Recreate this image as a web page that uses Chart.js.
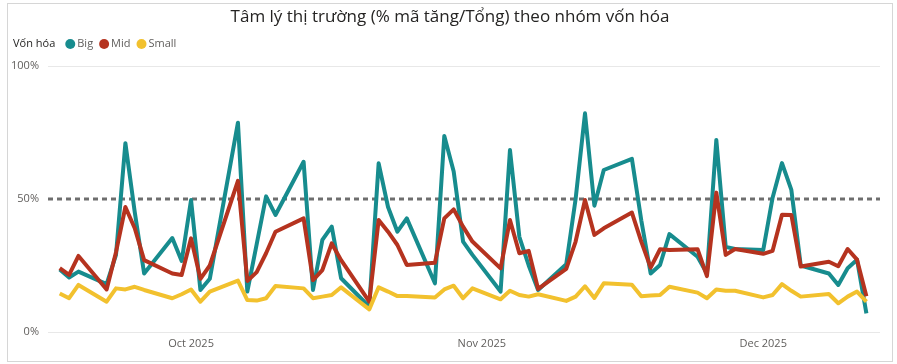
<!DOCTYPE html>
<html>
<head>
<meta charset="utf-8">
<script src="https://cdn.jsdelivr.net/npm/chart.js@4.4.1/dist/chart.umd.min.js"></script>
<style>
  html, body { margin: 0; padding: 0; background: #fff; }
  #khung { position: absolute; left: 7px; top: 3px; width: 884px; height: 357px; border: 1px solid #d6d6d6; }
  #bieudo { position: absolute; left: 0; top: 0; }
</style>
</head>
<body>
<div id="khung"></div>
<canvas id="bieudo" width="897" height="364"></canvas>
<script>
// Ngày giao dịch
const ngay = [
  '2025-09-17','2025-09-18','2025-09-19',
  '2025-09-22','2025-09-23','2025-09-24','2025-09-25','2025-09-26',
  '2025-09-29','2025-09-30','2025-10-01','2025-10-02','2025-10-03',
  '2025-10-06','2025-10-07','2025-10-08','2025-10-09','2025-10-10',
  '2025-10-13','2025-10-14','2025-10-15','2025-10-16','2025-10-17',
  '2025-10-20','2025-10-21','2025-10-22','2025-10-23','2025-10-24',
  '2025-10-27','2025-10-28','2025-10-29','2025-10-30','2025-10-31',
  '2025-11-03','2025-11-04','2025-11-05','2025-11-06','2025-11-07',
  '2025-11-10','2025-11-11','2025-11-12','2025-11-13','2025-11-14',
  '2025-11-17','2025-11-18','2025-11-19','2025-11-20','2025-11-21',
  '2025-11-24','2025-11-25','2025-11-26','2025-11-27','2025-11-28',
  '2025-12-01','2025-12-02','2025-12-03','2025-12-04','2025-12-05',
  '2025-12-08','2025-12-09','2025-12-10','2025-12-11','2025-12-12'
];

// % mã tăng / tổng theo nhóm vốn hóa
const big = [
  23.5, 20.5, 22.7,
  18, 29, 71, 45, 22,
  35.3, 26.7, 49.6, 15.8, 20,
  78.7, 15.2, 33, 51, 44,
  64, 15.8, 34.6, 39.6, 20.2,
  9.5, 63.4, 47, 37.7, 42.7,
  18.3, 73.7, 60.3, 34, 29,
  15.2, 68.4, 35.8, 25, 15.8,
  25.5, 50, 82.2, 47.5, 60.9,
  65.1, 42, 22, 25.2, 36.8,
  28.3, 22, 72.2, 32, 31.2,
  30.8, 50.5, 63.5, 53.4, 25,
  22, 17.7, 24, 27.2, 7
];
const mid = [
  24, 21.5, 28.6,
  16, 30, 47, 39, 27,
  22, 21.4, 35.2, 20, 25,
  56.8, 19.2, 22.5, 29.6, 37.7,
  42.7, 19.5, 23.3, 33.3, 27,
  11.4, 42.1, 37.7, 32.7, 25.2,
  26, 42.7, 46.1, 39.6, 34,
  23.9, 42.1, 29.6, 30.5, 16.2,
  23.7, 34, 49.6, 36.5, 39,
  44.9, 34, 24.2, 31.1, 30.8,
  31.1, 21, 52.4, 29, 31.2,
  29.4, 30.5, 44.1, 44, 24.6,
  26.4, 24.7, 31.2, 27.2, 13.4
];
const small = [
  14.5, 12.7, 17.7,
  11.4, 16.4, 16, 17, 15.8,
  12.7, 14.2, 16, 11.4, 15.2,
  19.3, 12, 11.8, 12.7, 17.3,
  16.4, 12.7, 13.3, 13.9, 16.8,
  8.5, 16.8, 15.2, 13.5, 13.5,
  13, 16, 17.4, 12.7, 16.4,
  12.3, 15.5, 13.9, 13.3, 14.2,
  11.7, 13.3, 17.2, 12.8, 18.3,
  17.8, 13.4, 13.7, 13.9, 17,
  14.8, 12.7, 16, 15.5, 15.5,
  13, 13.9, 18, 15.5, 13.3,
  14.3, 10.8, 13.3, 15.2, 11.4
];

const tenNhom = ['Big', 'Mid', 'Small'];
const mauNhom = ['#178c8e', '#b5331f', '#f2c12e'];

const nhanTrucX = ['Oct 2025', 'Nov 2025', 'Dec 2025'];
const ngayTrucX = ['2025-10-01', '2025-11-01', '2025-12-01'];
const mocTrucY = [0, 50, 100];
const nguong = 50;

const tieuDe = 'Tâm lý thị trường (% mã tăng/Tổng) theo nhóm vốn hóa';
const tieuDeChuGiai = 'Vốn hóa';

function soNgay(s) {
  const p = s.split('-').map(Number);
  return Date.UTC(p[0], p[1] - 1, p[2]) / 86400000;
}

const goc = soNgay('2025-10-01');
const xMin = goc - 15.25;
const xMax = goc + 73.45;

function chuoi(giaTri) {
  return ngay.map((d, i) => ({ x: soNgay(d), y: giaTri[i] }));
}

const FONT = "'Segoe UI', 'Open Sans', sans-serif";

// vẽ tiêu đề + chú giải kiểu Power BI
const veChu = {
  id: 'veChu',
  afterDraw(chart) {
    const ctx = chart.ctx;
    ctx.save();
    ctx.fillStyle = '#252423';
    ctx.font = '17px ' + FONT;
    ctx.textAlign = 'center';
    ctx.textBaseline = 'alphabetic';
    ctx.fillText(tieuDe, 450, 22);

    ctx.textAlign = 'left';
    ctx.textBaseline = 'middle';
    ctx.font = '11px ' + FONT;
    ctx.fillStyle = '#252423';
    ctx.fillText(tieuDeChuGiai, 13, 44);
    let x = ctx.measureText(tieuDeChuGiai).width + 13 + 10;
    tenNhom.forEach((ten, i) => {
      ctx.beginPath();
      ctx.fillStyle = mauNhom[i];
      ctx.arc(x + 5, 44, 5, 0, Math.PI * 2);
      ctx.fill();
      ctx.fillStyle = '#605e5c';
      ctx.fillText(ten, x + 12, 44);
      x += 12 + ctx.measureText(ten).width + 6;
    });
    ctx.restore();
  }
};

new Chart(document.getElementById('bieudo'), {
  type: 'line',
  data: {
    datasets: [
      {
        label: 'Big',
        data: chuoi(big),
        borderColor: mauNhom[0],
        borderWidth: 4,
        order: 3
      },
      {
        label: 'Mid',
        data: chuoi(mid),
        borderColor: mauNhom[1],
        borderWidth: 4,
        order: 2
      },
      {
        label: 'Small',
        data: chuoi(small),
        borderColor: mauNhom[2],
        borderWidth: 4,
        order: 1
      },
      {
        label: 'ref',
        data: [{ x: xMin, y: nguong }, { x: xMax, y: nguong }],
        borderColor: '#6e6e6e',
        borderWidth: 3,
        borderDash: [5, 4],
        borderJoinStyle: 'miter',
        order: 4
      }
    ]
  },
  options: {
    responsive: false,
    animation: false,
    elements: {
      point: { radius: 0, hoverRadius: 0 },
      line: { tension: 0, fill: false, borderJoinStyle: 'round', borderCapStyle: 'butt' }
    },
    layout: {
      padding: { top: 66, left: 0, right: 17, bottom: 0 }
    },
    plugins: {
      legend: { display: false },
      title: { display: false },
      tooltip: { enabled: false }
    },
    scales: {
      x: {
        type: 'linear',
        min: xMin,
        max: xMax,
        afterBuildTicks: scale => {
          scale.ticks = ngayTrucX.map(d => ({ value: soNgay(d) }));
        },
        afterFit: scale => { scale.height = 32; },
        ticks: {
          autoSkip: false,
          maxRotation: 0,
          padding: 5,
          color: '#605e5c',
          font: { family: FONT, size: 11 },
          callback: (v, i) => nhanTrucX[i]
        },
        grid: { display: false, drawTicks: false },
        border: { display: false }
      },
      y: {
        min: 0,
        max: 100,
        afterBuildTicks: scale => {
          scale.ticks = mocTrucY.map(v => ({ value: v }));
        },
        afterFit: scale => { scale.width = 48; },
        ticks: {
          padding: 9,
          color: '#605e5c',
          font: { family: FONT, size: 11 },
          callback: v => v + '%'
        },
        grid: {
          drawTicks: false,
          color: ctx => ctx.tick && ctx.tick.value === nguong ? 'rgba(0,0,0,0)' : '#e8e8e8'
        },
        border: { display: false }
      }
    }
  },
  plugins: [veChu]
});
</script>
</body>
</html>
